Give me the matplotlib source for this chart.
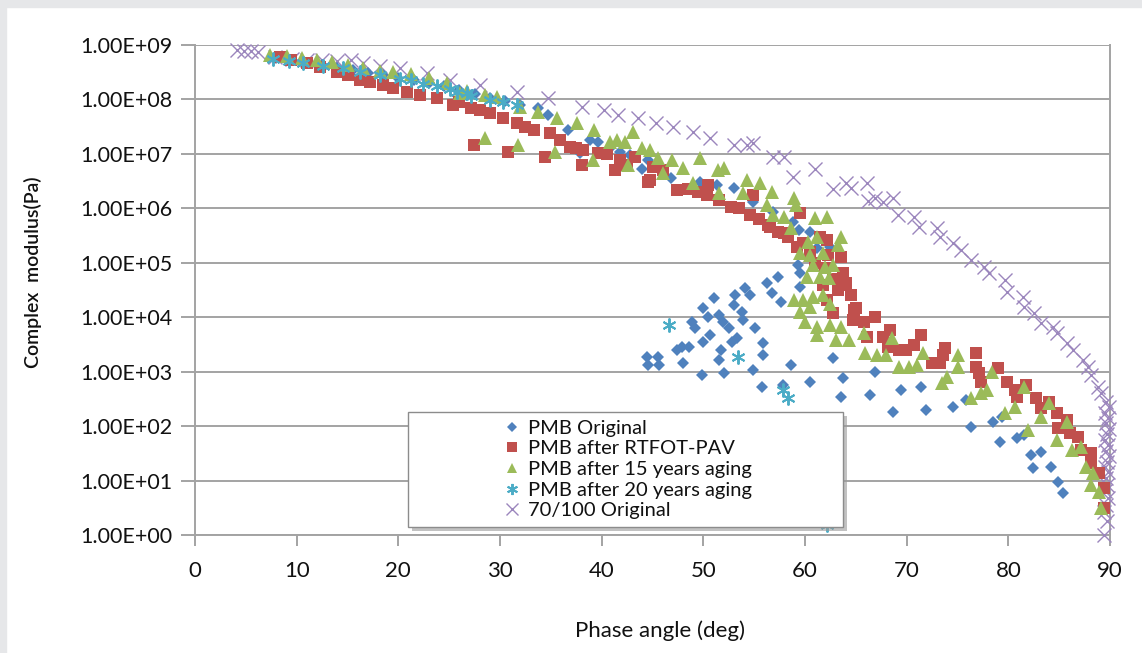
import matplotlib
matplotlib.use("Agg")
import matplotlib.pyplot as plt
from matplotlib.patches import Rectangle
import numpy as np

# ---------------- data (phase angle in deg, log10 of complex modulus in Pa) ----------------
pmb_orig_deg = [8, 9.5, 11, 12.5, 14, 15.5, 17, 18.5, 20, 21.5, 23, 24.5, 26, 27.5, 29, 30.5, 32,
                33.7, 34.7, 36.7, 37.9, 38.9, 39.6, 40.8, 41.8, 42.8, 44, 44.6, 46.8, 49.7, 51.3, 53,
                54.9, 56.9, 58.8, 59.4, 60.5, 61.2, 62.5,
                59.3, 59.5, 59.5, 57.3, 56.3, 56.8, 57.6, 54.1, 54.6, 53.1, 53.0, 51.0, 50.0, 50.5,
                51.5, 51.9, 52.5, 53.8, 53.9, 55.1, 53.3, 55.9, 55.9, 54.9, 58.6, 48.9, 50.0, 50.7,
                47.9, 47.4, 48.0, 48.6, 51.7, 51.5, 49.9, 52.0, 44.5, 45.5, 44.6, 45.6, 55.8, 57.8,
                60.5, 49.2, 52.8,
                62.8, 63.7, 63.5, 66.9, 66.4, 68.7, 69.4, 71.4, 71.9, 74.6, 75.8, 76.3, 78.5, 79.4,
                79.2, 80.9, 81.5, 82.2, 83.2, 82.4, 84.2, 84.9, 85.4]
pmb_orig_logG = [8.76, 8.72, 8.67, 8.63, 8.58, 8.54, 8.49, 8.45, 8.40, 8.35, 8.30, 8.24, 8.17, 8.10,
                 8.03, 7.97, 7.90, 7.84, 7.71, 7.44, 7.01, 7.26, 7.22, 7.10, 7.04, 6.98, 6.72, 6.89,
                 6.56, 6.48, 6.43, 6.37, 6.12, 5.93, 5.75, 5.60, 5.57, 5.27, 5.29,
                 4.96, 4.81, 4.56, 4.74, 4.63, 4.45, 4.28, 4.54, 4.41, 4.41, 4.22, 4.35, 4.17, 4.00,
                 4.04, 3.91, 3.80, 4.10, 3.95, 3.80, 3.62, 3.53, 3.31, 3.03, 3.12, 3.91, 3.55, 3.67,
                 3.45, 3.40, 3.16, 3.45, 3.40, 3.21, 2.94, 2.98, 3.27, 3.27, 3.12, 3.12, 2.72, 2.76,
                 2.81, 3.80, 3.55,
                 3.25, 2.88, 2.53, 2.99, 2.57, 2.26, 2.66, 2.72, 2.30, 2.35, 2.48, 1.98, 2.08, 2.17,
                 1.71, 1.78, 1.84, 1.47, 1.52, 1.23, 1.25, 0.97, 0.77]

rtfot_deg = [8.4, 9.4, 11, 12.3, 14, 15, 16.2, 17.2, 18.5, 19.5, 20.9, 22.1, 23.8, 25.4, 26, 27.1,
             28, 29, 30.3, 31.7, 32.5, 33.3, 34.9, 35.9, 36.9, 37.5, 38.2, 39.6, 40.5, 41.3, 41.8,
             42.5, 43.3, 44.6, 44.8, 45, 46, 47.4, 48.5, 49.5, 50.4, 50.5, 51.5, 52.7, 53.5, 54.6,
             54.9, 55.5, 56.4, 56.6, 57.3, 57.9, 58.3, 59.2, 59.5, 59.8, 60.5, 61.0, 61.5, 61.8,
             62.0, 62.2, 62.3, 62.8, 63.2, 63.5, 63.7, 64.0, 63.5, 64.5, 62.2, 64.8, 62.8, 65.0,
             64.7, 65.8, 66.9, 66.1, 67.7, 68.4, 68.2, 69.2, 69.9, 70.7, 71.4, 72.5, 73.3, 73.6,
             73.8, 76.8, 76.8, 77.1, 77.3, 79.0, 79.9, 80.7, 80.9, 81.7, 82.7, 83.2, 84.0, 84.8,
             84.9, 85.8, 86.1, 86.9, 87.1, 88.1, 88.1, 88.9, 89.4, 89.4,
             27.4, 30.8, 34.4, 38.1]
rtfot_logG = [8.78, 8.72, 8.67, 8.60, 8.50, 8.45, 8.36, 8.32, 8.27, 8.21, 8.14, 8.08, 8.03, 7.90,
              7.95, 7.84, 7.80, 7.75, 7.66, 7.57, 7.50, 7.44, 7.38, 7.26, 7.13, 7.10, 7.07, 7.01,
              7.00, 6.70, 6.89, 6.80, 6.94, 6.48, 6.52, 6.76, 6.70, 6.34, 6.35, 6.30, 6.25, 6.43,
              6.15, 6.03, 6.00, 5.88, 6.25, 5.80, 5.69, 5.66, 5.57, 5.55, 5.47, 5.29, 5.91, 5.36,
              5.20, 5.00, 5.47, 4.60, 4.90, 5.42, 5.14, 4.70, 4.50, 5.11, 4.81, 4.63, 4.59, 4.41,
              4.32, 4.13, 4.08, 4.17, 3.95, 3.91, 4.00, 3.64, 3.64, 3.77, 3.45, 3.40, 3.40, 3.49,
              3.67, 3.16, 3.16, 3.31, 3.43, 3.34, 3.09, 2.98, 2.81, 3.07, 2.81, 2.66, 2.53, 2.76,
              2.51, 2.33, 2.44, 2.24, 1.97, 2.11, 1.87, 1.80, 1.56, 1.51, 1.32, 1.14, 0.86, 0.50,
              7.16, 7.04, 6.94, 6.80]

aged15_deg = [7.4, 9, 10.5, 12, 13.5, 15, 16.5, 18.2, 19.5, 21.2, 23, 24.8, 26.1, 26.8, 28.5, 29.7,
              32, 33.7, 35.6, 37.6, 39.2, 40.8, 41.5, 42.3, 43.1, 44, 44.8, 45.5, 46.9, 42.6, 46,
              48, 49.7, 49, 51.4, 52, 51.5, 54.3, 55.6, 53.9, 56.8, 56.3, 58.9, 59.1, 56.9, 57.9,
              58.6, 61, 62.2, 61.2, 63.5, 63.2, 60.3, 59.5, 60.5, 61.8, 60.8, 62, 62.8, 60.2, 61.5,
              62.4, 58.9, 59.8, 60.8, 61.8, 59.5, 60.5, 62.5, 60, 61.2, 62.5, 61.2, 63.5, 63, 64.3,
              65.8, 65.9, 67.1, 68.0, 68.6, 69.2, 70.2, 71, 71.6, 73.5, 74, 75, 75, 76.3, 77.3,
              77.9, 78.4, 79.7, 80.7, 81.5, 81.9, 83.2, 84, 84.8, 85.8, 86.3, 87.1, 87.6, 88.3,
              88.1, 88.9, 89.1,
              28.5, 31.8, 35.4, 39.1]
aged15_logG = [8.82, 8.80, 8.76, 8.72, 8.68, 8.63, 8.58, 8.52, 8.50, 8.46, 8.40, 8.30, 8.12, 8.15,
               8.08, 8.05, 7.86, 7.77, 7.66, 7.57, 7.44, 7.22, 7.26, 7.22, 7.40, 7.11, 7.08, 6.92,
               6.89, 6.80, 6.65, 6.74, 6.92, 6.47, 6.70, 6.74, 6.28, 6.52, 6.47, 6.28, 6.30, 6.06,
               6.19, 6.06, 5.88, 5.84, 5.64, 5.82, 5.84, 5.47, 5.47, 5.33, 5.38, 5.18, 5.15, 5.18,
               4.96, 4.92, 4.96, 4.74, 4.74, 4.72, 4.32, 4.32, 4.37, 4.41, 4.10, 4.19, 4.24, 3.91,
               3.82, 3.86, 3.67, 3.82, 3.58, 3.58, 3.71, 3.34, 3.31, 3.31, 3.62, 3.09, 3.09, 3.12,
               3.34, 2.79, 2.90, 3.09, 3.31, 2.51, 2.61, 2.66, 3.00, 2.24, 2.35, 2.72, 1.93, 2.17,
               2.42, 1.75, 2.08, 1.56, 1.62, 1.25, 1.14, 0.92, 0.79, 0.50,
               7.29, 7.16, 7.04, 6.89]

aged20_deg = [7.7, 9.2, 10.6, 12.6, 14.6, 16.2, 18.2, 20.2, 21.2, 22.4, 23.8, 25.1, 25.8, 26.8,
              27.1, 29, 30.3, 31.7, 46.6, 53.4, 57.8, 58.3, 62.2]
aged20_logG = [8.74, 8.70, 8.67, 8.61, 8.58, 8.50, 8.45, 8.38, 8.36, 8.29, 8.24, 8.20, 8.13, 8.12,
               8.06, 7.99, 7.95, 7.90, 3.86, 3.27, 2.66, 2.52, 0.18]

orig70_deg = [4.1, 4.8, 5.5, 6.2, 7.9, 9.5, 11, 12.5, 14, 15.3, 16.5, 18.2, 20.2, 22.8, 25.1, 28,
              31.7, 34.7, 38.1, 40.2, 41.6, 43.6, 45.3, 47, 49, 50.7, 53, 54.3, 54.9, 56.9, 57.9,
              58.8, 61, 62.8, 64, 64.5, 66.1, 66.2, 66.9, 67.7, 68.7, 69.1, 70.7, 71.2, 73, 73.3,
              74.6, 75.3, 76.3, 77.6, 78.1, 79.7, 79.9, 81.4, 81.5, 82.5, 83.2, 84.4, 84.8, 85.8,
              86.4, 87.3, 87.8, 88.1, 88.8, 89.1, 89.6, 89.9, 89.5, 89.8, 89.6, 89.9, 89.7, 89.5,
              89.8, 89.6, 89.9, 89.7, 89.5, 89.8, 89.6, 89.7, 89.5, 89.8, 89.6, 89.4, 89.7, 89.4]
orig70_logG = [8.91, 8.89, 8.89, 8.87, 8.78, 8.75, 8.73, 8.72, 8.70, 8.73, 8.67, 8.62, 8.58, 8.49,
               8.36, 8.27, 8.14, 8.03, 7.86, 7.81, 7.71, 7.66, 7.57, 7.49, 7.40, 7.30, 7.16, 7.16,
               7.20, 6.94, 6.94, 6.58, 6.72, 6.36, 6.47, 6.37, 6.47, 6.14, 6.19, 6.12, 6.19, 5.88,
               5.84, 5.66, 5.64, 5.47, 5.36, 5.24, 5.05, 4.92, 4.81, 4.68, 4.46, 4.37, 4.19, 4.08,
               3.89, 3.82, 3.71, 3.53, 3.40, 3.21, 3.09, 2.94, 2.72, 2.61, 2.45, 2.35, 2.25, 2.15,
               2.05, 1.95, 1.85, 1.75, 1.65, 1.55, 1.45, 1.35, 1.25, 1.15, 1.05, 0.92, 0.80, 0.68,
               0.55, 0.42, 0.25, 0.00]

series_labels = ["PMB Original", "PMB after RTFOT-PAV", "PMB after 15 years aging",
                 "PMB after 20 years aging", "70/100 Original"]
x_ticks = [0, 10, 20, 30, 40, 50, 60, 70, 80, 90]
y_ticks = [1e0, 1e1, 1e2, 1e3, 1e4, 1e5, 1e6, 1e7, 1e8, 1e9]
y_ticklabels = ["1.00E+00", "1.00E+01", "1.00E+02", "1.00E+03", "1.00E+04",
                "1.00E+05", "1.00E+06", "1.00E+07", "1.00E+08", "1.00E+09"]

# ---------------- figure ----------------
W, H = 1142, 653
fig = plt.figure(figsize=(W / 100, H / 100), dpi=100)
fig.patch.set_facecolor("white")
# grey frame strips at left and top
fig.patches.append(Rectangle((0, 0), 6 / W, 1, transform=fig.transFigure, color="#e6e7e9", zorder=0))
fig.patches.append(Rectangle((0, 1 - 7 / H), 1, 7 / H, transform=fig.transFigure, color="#e6e7e9", zorder=0))

ax = fig.add_axes([195 / W, 1 - 535 / H, (1110 - 195) / W, (535 - 45) / H])
ax.set_yscale("log")
ax.set_xlim(0, 90)
ax.set_ylim(1, 1e9)

FONT = ["Lato", "DejaVu Sans"]

def G(v):
    return np.power(10.0, np.asarray(v))

common = dict(linestyle="none", clip_on=False, zorder=3)
h5 = ax.plot(orig70_deg, G(orig70_logG), marker="x", markersize=10, markeredgewidth=1.0,
             color="#9b86bd", label=series_labels[4], **common)[0]
h1 = ax.plot(pmb_orig_deg, G(pmb_orig_logG), marker="D", markersize=6.2, markeredgewidth=0,
             color="#4f81bd", label=series_labels[0], **common)[0]
h2 = ax.plot(rtfot_deg, G(rtfot_logG), marker="s", markersize=8.6, markeredgewidth=0,
             color="#c0504d", label=series_labels[1], **common)[0]
h3 = ax.plot(aged15_deg, G(aged15_logG), marker="^", markersize=9.5, markeredgewidth=0,
             color="#9bbb59", label=series_labels[2], **common)[0]
h4 = ax.plot(aged20_deg, G(aged20_logG), marker=(6, 2, 0), markersize=10, markeredgewidth=1.4,
             color="#4bacc6", label=series_labels[3], **common)[0]

# axes styling
grid_c = "#a3a3a3"
ax.set_yticks(y_ticks)
ax.set_yticklabels(y_ticklabels)
ax.yaxis.set_minor_locator(matplotlib.ticker.NullLocator())
ax.set_xticks(x_ticks)
ax.grid(axis="y", color=grid_c, linewidth=1.4, zorder=0)
ax.set_axisbelow(True)
for s in ["left", "bottom", "right"]:
    ax.spines[s].set_color(grid_c)
    ax.spines[s].set_linewidth(1.4)
ax.spines["top"].set_visible(False)
ax.tick_params(axis="both", which="major", color=grid_c, width=1.4, direction="out")
ax.tick_params(axis="y", length=10, pad=6, labelsize=15.5, labelcolor="#111111")
ax.tick_params(axis="x", length=8, pad=11, labelsize=16, labelcolor="#111111")
for lab in ax.get_xticklabels() + ax.get_yticklabels():
    lab.set_family(FONT)

fig.text(660 / W, 1 - 631 / H, "Phase angle (deg)", ha="center", va="center",
         fontsize=16, family=FONT, color="#111111")
fig.text(33 / W, 1 - 272 / H, "Complex  modulus(Pa)", ha="center", va="center",
         rotation=90, fontsize=14, family=FONT, fontweight="semibold", color="#111111")

# legend frame drawn as a box with shadow
lx0, lx1, ly0, ly1 = 408, 843, 412, 527
fig.patches.append(Rectangle(((lx0 + 4) / W, 1 - (ly1 + 4) / H), (lx1 - lx0) / W, (ly1 - ly0) / H,
                             transform=fig.transFigure, facecolor="#9a9a9a", edgecolor="none",
                             alpha=0.6, zorder=5))
fig.patches.append(Rectangle((lx0 / W, 1 - ly1 / H), (lx1 - lx0) / W, (ly1 - ly0) / H,
                             transform=fig.transFigure, facecolor="white", edgecolor="#8c8c8c",
                             linewidth=1.0, zorder=6))
leg = fig.legend(handles=[h1, h2, h3, h4, h5], loc="center",
                 bbox_to_anchor=((lx0 + lx1) / 2 / W + 2 / W, 1 - (ly0 + ly1) / 2 / H),
                 frameon=False, prop={"family": FONT, "size": 14.5}, labelspacing=0.18,
                 handlelength=0.9, handletextpad=0.3, borderpad=0.2, markerscale=0.8)
leg.set_zorder(7)
for t in leg.get_texts():
    t.set_color("#111111")

fig.savefig("out.png", dpi=100, facecolor=fig.get_facecolor())
